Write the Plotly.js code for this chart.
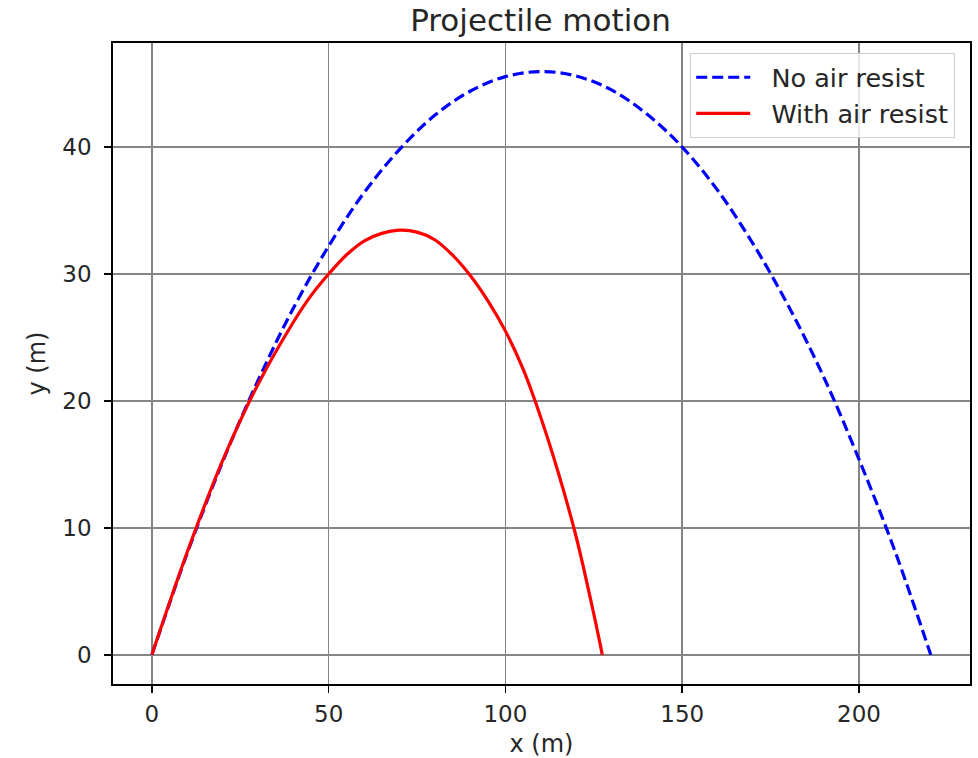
<!DOCTYPE html>
<html>
<head>
<meta charset="utf-8">
<script src="https://cdn.plot.ly/plotly-3.0.1.min.js"></script>
<style>
  html, body { margin: 0; padding: 0; background: #ffffff; }
  #chart { width: 978px; height: 758px; }
</style>
</head>
<body>
<div id="chart"></div>
<script>
// Values
var noAirX = [0, 10, 20, 30, 40, 50, 60, 70, 80, 90, 100, 110, 120, 130, 140, 150, 160, 170, 180, 190, 200, 210, 220.3];
var noAirY = [0, 8.0, 15.2, 21.6, 27.3, 32.2, 36.4, 39.8, 42.5, 44.4, 45.55, 45.95, 45.6, 44.5, 42.6, 40.0, 36.6, 32.4, 27.5, 21.9, 15.4, 8.3, 0];

var airX = [0, 10, 20, 30, 40, 45, 50, 55, 60, 65, 70, 75, 80, 85, 90, 95, 100, 105, 110, 115, 120, 125, 127.4];
var airY = [0, 8.1, 15.3, 21.3, 26.2, 28.3, 30.0, 31.5, 32.6, 33.2, 33.45, 33.3, 32.7, 31.5, 29.9, 27.9, 25.5, 22.5, 18.7, 14.3, 9.3, 3.2, 0];

var seriesNames = ["No air resist", "With air resist"];
var titleText = "Projectile motion";
var xLabel = "x (m)";
var yLabel = "y (m)";
var xTicks = [0, 50, 100, 150, 200];
var yTicks = [0, 10, 20, 30, 40];

var FONT = "DejaVu Sans, Liberation Sans, sans-serif";
var PAD = "\u00a0\u00a0";

var traces = [
  {
    x: noAirX, y: noAirY, name: PAD + seriesNames[0], type: "scatter", mode: "lines",
    line: { color: "#0000ff", width: 3.2, dash: "11px,5px", shape: "spline", smoothing: 1 }
  },
  {
    x: airX, y: airY, name: PAD + seriesNames[1], type: "scatter", mode: "lines",
    line: { color: "#ff0000", width: 3.2, shape: "spline", smoothing: 1 }
  }
];

var axisCommon = {
  showline: true, linecolor: "#000000", linewidth: 1.8, mirror: true,
  ticks: "outside", ticklen: 7, tickwidth: 1.5, tickcolor: "#000000",
  showgrid: true, gridcolor: "#858585", gridwidth: 1.5,
  zeroline: false,
  tickfont: { family: FONT, size: 23, color: "#262626" }
};

var layout = {
  width: 978, height: 758,
  margin: { l: 113, r: 8, t: 43, b: 74 },
  paper_bgcolor: "#ffffff", plot_bgcolor: "#ffffff",
  title: {
    text: titleText,
    font: { family: FONT, size: 31, color: "#262626" },
    x: 0.5527, xanchor: "center",
    y: 0.974, yanchor: "middle", yref: "container"
  },
  xaxis: Object.assign({}, axisCommon, {
    range: [-11.0, 231.4],
    tickvals: xTicks, ticktext: xTicks.map(String),
    ticklabelstandoff: 2,
    title: { text: xLabel, font: { family: FONT, size: 24, color: "#262626" }, standoff: 12 }
  }),
  yaxis: Object.assign({}, axisCommon, {
    range: [-2.3, 48.2],
    tickvals: yTicks, ticktext: yTicks.map(String),
    ticklabelstandoff: 8,
    title: { text: yLabel, font: { family: FONT, size: 24, color: "#262626" }, standoff: 10 }
  }),
  legend: {
    x: 0.9825, xanchor: "right", y: 0.9844, yanchor: "top",
    bgcolor: "rgba(255,255,255,0.8)", bordercolor: "#cfcfcf", borderwidth: 1.2,
    font: { family: FONT, size: 25.5, color: "#262626" },
    itemwidth: 54
  },
  showlegend: true
};

Plotly.newPlot("chart", traces, layout, { displayModeBar: false, staticPlot: true });
</script>
</body>
</html>
